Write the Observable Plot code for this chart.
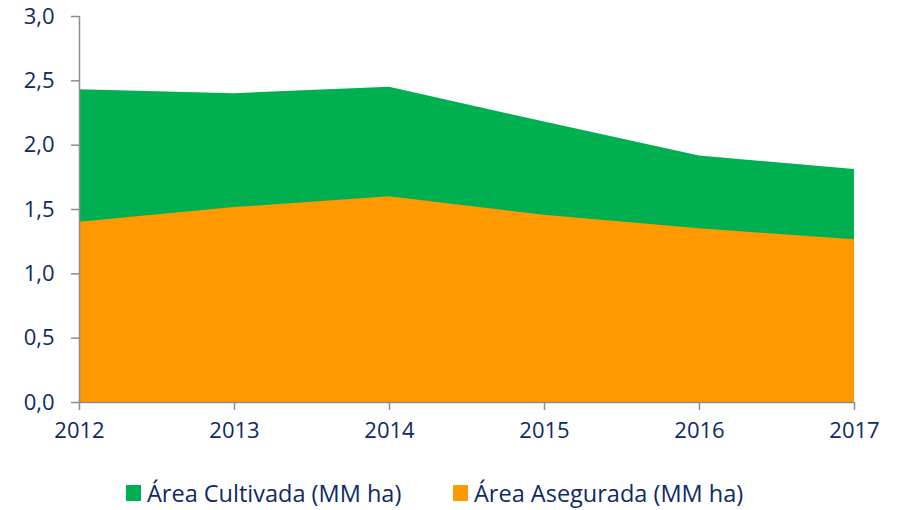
<!DOCTYPE html>
<html><head><meta charset="utf-8">
<script src="https://cdn.jsdelivr.net/npm/d3@7"></script>
<script src="https://cdn.jsdelivr.net/npm/@observablehq/plot@0.6"></script>
<style>
body{margin:0;background:#fff;font-family:"Open Sans",sans-serif;}
#legend{position:relative;height:50px;font-size:23.5px;color:#0e2a66;}
.item{display:flex;align-items:center;position:absolute;top:17px;line-height:32px;}
.sw{width:15px;height:16px;margin-right:6px;}
</style></head>
<body>
<div id="chart"></div>
<div id="legend"></div>
<script>
const years = [2012, 2013, 2014, 2015, 2016, 2017];
const cultivada = [2.43, 2.40, 2.45, 2.18, 1.915, 1.81];
const asegurada = [1.40, 1.515, 1.60, 1.455, 1.35, 1.265];
const yTicks = [0, 0.5, 1, 1.5, 2, 2.5, 3];
const seriesNames = ["Área Cultivada (MM ha)", "Área Asegurada (MM ha)"];
const colors = ["#00b050", "#ff9900"];

const data = years.map((y, i) => ({year: y, cult: cultivada[i], aseg: asegurada[i]}));
const fmt = d => d3.format(".1f")(d).replace(".", ",");
const axisColor = "#8c8c8c";
const textColor = "#0e2a66";

const chart = Plot.plot({
  width: 899, height: 460,
  marginLeft: 79, marginRight: 45, marginTop: 16, marginBottom: 58,
  style: {fontFamily: "'Open Sans', sans-serif", fontSize: "22px", color: textColor, background: "#fff", overflow: "visible"},
  x: {domain: [2012, 2017]},
  y: {domain: [0, 3]},
  marks: [
    Plot.areaY(data, {x: "year", y: "cult", fill: colors[0]}),
    Plot.areaY(data, {x: "year", y: "aseg", fill: colors[1]}),
    Plot.ruleX([2012], {y1: 0, y2: 3, stroke: axisColor, strokeWidth: 1.5}),
    Plot.ruleY([0], {stroke: axisColor, strokeWidth: 1.5}),
    Plot.axisY({ticks: yTicks, tickFormat: fmt, tickSize: 8, tickPadding: 17, stroke: axisColor, strokeWidth: 1.5, label: null, fill: textColor, fontSize: 22}),
    Plot.axisX({ticks: years, tickFormat: d => String(d), tickSize: 8, tickPadding: 12, stroke: axisColor, strokeWidth: 1.5, label: null, fill: textColor, fontSize: 22})
  ]
});
document.getElementById("chart").appendChild(chart);

const legend = document.getElementById("legend");
const lefts = [126, 453];
seriesNames.forEach((n, i) => {
  const it = document.createElement("div");
  it.className = "item";
  it.style.left = lefts[i] + "px";
  it.innerHTML = `<span class="sw" style="background:${colors[i]}"></span><span>${n}</span>`;
  legend.appendChild(it);
});
</script>
</body></html>
